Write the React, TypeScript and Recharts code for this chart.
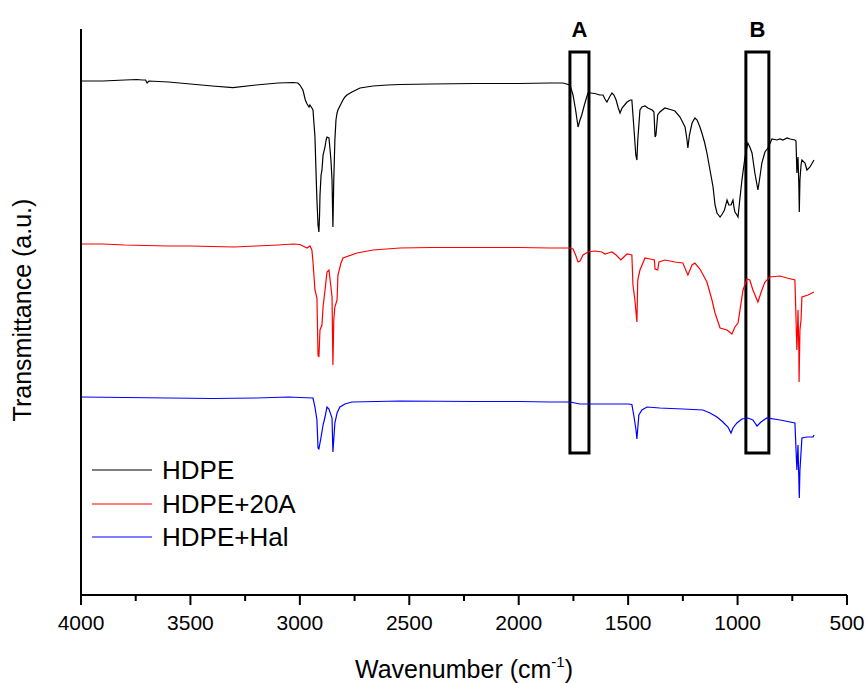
import { LineChart, Line, XAxis, YAxis, ReferenceArea, Label } from "recharts";

// wavenumber (cm-1) and offset transmittance (a.u.)
const hdpeWn = [
  4000, 3900, 3800, 3745, 3720, 3705, 3698, 3690, 3600, 3500,
  3400, 3306, 3200, 3100, 3031, 3009, 3000, 2986, 2975, 2967,
  2958, 2954, 2945, 2940, 2935, 2931, 2925, 2922, 2917, 2913,
  2910, 2908, 2903, 2899, 2894, 2885, 2880, 2876, 2867, 2862,
  2858, 2853, 2849, 2845, 2840, 2835, 2830, 2826, 2817, 2803,
  2794, 2785, 2762, 2725, 2666, 2600, 2542, 2400, 2200, 2000,
  1857, 1798, 1766, 1752, 1740, 1729, 1720, 1712, 1700, 1684,
  1674, 1652, 1630, 1615, 1606, 1597, 1585, 1574, 1565, 1555,
  1545, 1537, 1528, 1505, 1490, 1483, 1473, 1465, 1460, 1456,
  1446, 1437, 1423, 1410, 1390, 1382, 1377, 1373, 1365, 1355,
  1332, 1300, 1286, 1263, 1240, 1231, 1227, 1220, 1208, 1195,
  1185, 1172, 1163, 1150, 1140, 1126, 1112, 1103, 1094, 1080,
  1070, 1060, 1048, 1040, 1030, 1021, 1016, 1012, 1003, 998,
  990, 980, 966, 953, 944, 934, 921, 907, 900, 889,
  875, 861, 843, 820, 806, 793, 774, 760, 738, 733,
  729, 726, 724, 720, 718, 715, 710, 706, 692, 683,
  669, 651,
];
const hdpeT = [
  514, 514, 515, 515.5, 515, 515, 512, 514, 513, 511,
  509, 507.3, 510, 512, 512.5, 512, 510, 505, 495, 491,
  488, 490, 487, 485, 470, 458, 415, 395, 370, 363,
  380, 400, 420, 425, 440, 448, 455, 458, 457, 445,
  435, 415, 368, 415, 455, 475, 482, 485, 489, 495,
  498, 500, 503, 507, 509, 510, 510.5, 511, 511.5, 511.5,
  512, 512, 510, 500, 485, 468, 475, 480, 490, 502,
  502, 501.5, 500, 500, 496, 493, 498, 502, 500, 495,
  487, 482, 487, 493, 495, 495, 465, 440, 435, 455,
  485, 488, 489, 487, 485, 483, 458, 460, 480, 483,
  487, 485, 484, 478, 468, 455, 447, 460, 472, 477,
  475, 468, 462, 452, 442, 425, 408, 390, 382, 378,
  381, 385, 395, 390, 390, 395, 387, 383, 380, 378,
  395, 415, 438, 452, 448, 442, 422, 405, 415, 432,
  443, 447, 456, 455, 456, 455, 457, 456, 455, 454,
  422, 433, 438, 410, 383, 415, 430, 435, 432, 425,
  428, 435,
];

const clayWn = [
  4000, 3900, 3800, 3700, 3600, 3500, 3400, 3300, 3200, 3100,
  3030, 3000, 2967, 2954, 2945, 2940, 2931, 2922, 2917, 2913,
  2908, 2899, 2894, 2885, 2876, 2867, 2858, 2853, 2849, 2845,
  2840, 2830, 2826, 2812, 2803, 2739, 2666, 2542, 2400, 2200,
  2000, 1857, 1766, 1752, 1740, 1729, 1720, 1706, 1684, 1652,
  1620, 1606, 1590, 1574, 1555, 1533, 1520, 1505, 1483, 1478,
  1469, 1465, 1460, 1456, 1446, 1423, 1400, 1380, 1377, 1365,
  1359, 1332, 1286, 1250, 1231, 1227, 1208, 1195, 1172, 1140,
  1117, 1103, 1080, 1048, 1026, 1012, 998, 975, 957, 944,
  930, 907, 889, 875, 852, 806, 774, 738, 729, 726,
  724, 720, 719, 715, 710, 706, 678, 651,
];
const clayT = [
  351, 351, 350, 349.5, 349, 349, 348.5, 348, 349, 350,
  351, 350.5, 347, 349, 345, 333, 305, 297, 240, 238,
  265, 270, 288, 305, 323, 325, 308, 298, 230, 275,
  288, 295, 320, 332, 337, 342, 345, 347, 347.5, 347.5,
  347.5, 347, 347, 346, 340, 333, 334, 340, 343, 344,
  343, 341, 342, 343, 340, 335, 338, 341, 340, 310,
  295, 285, 273, 315, 325, 337, 336, 335, 326, 325,
  333, 335, 333, 332, 322, 320, 330, 332, 326, 313,
  295, 282, 267, 265, 261, 268, 272, 305, 316, 315,
  305, 293, 305, 313, 318, 319, 317, 315, 245, 265,
  285, 245, 213, 265, 275, 298, 300, 303,
];

const halWn = [
  4000, 3800, 3600, 3400, 3200, 3050, 3000, 2940, 2931, 2922,
  2917, 2913, 2903, 2894, 2885, 2876, 2867, 2853, 2849, 2840,
  2830, 2817, 2794, 2762, 2542, 2200, 2000, 1857, 1766, 1720,
  1674, 1500, 1483, 1473, 1464, 1460, 1451, 1437, 1414, 1355,
  1250, 1158, 1126, 1094, 1067, 1044, 1030, 1021, 1003, 980,
  953, 930, 911, 893, 866, 806, 738, 729, 724, 718,
  715, 706, 683, 655, 651,
];
const halT = [
  198, 197.5, 197, 196.5, 197, 198, 197.5, 197, 188, 175,
  147, 146, 158, 170, 178, 188, 186, 177, 143, 172,
  182, 188, 191, 193, 194, 193.5, 193.5, 193, 193, 191,
  191, 191, 190.5, 178, 165, 156, 180, 185, 188, 187,
  186, 185, 182, 178, 173, 168, 162, 167, 172, 176,
  177, 175, 169, 173, 177, 175, 172, 125, 150, 97,
  125, 157, 158, 158, 160,
];

const seriesNames = ["HDPE", "HDPE+20A", "HDPE+Hal"];
const seriesColors = ["#000000", "#ff0000", "#0000ff"];

const xTicks = [4000, 3750, 3500, 3250, 3000, 2750, 2500, 2250, 2000, 1750, 1500, 1250, 1000, 750, 500];

// boxes A and B (wavenumber range, transmittance range)
const boxLabels = ["A", "B"];
const boxX = [
  [1766, 1679],
  [962, 857],
];
const boxY = [142, 543];

const FONT = "'Liberation Sans', Arial, Helvetica, sans-serif";

const toPoints = (wn: number[], t: number[]) => wn.map((w, i) => ({ wn: w, t: t[i] }));
const seriesData = [toPoints(hdpeWn, hdpeT), toPoints(clayWn, clayT), toPoints(halWn, halT)];

const WaveTick = (props: any) => {
  const { x, y, payload } = props;
  const major = payload.value % 500 === 0;
  return (
    <g>
      <line x1={x} x2={x} y1={y} y2={y + (major ? 10 : 6)} stroke="#000" strokeWidth={2} />
      {major && (
        <text x={x} y={y + 35} textAnchor="middle" fontSize={21} fontFamily={FONT} fill="#000">
          {payload.value}
        </text>
      )}
    </g>
  );
};

export default function App() {
  return (
    <div style={{ position: "fixed", left: 0, top: 0, width: 868, height: 683, background: "#fff" }}>
      <LineChart width={868} height={683} margin={{ top: 29, right: 21, left: 21, bottom: 8 }}>
        <XAxis
          dataKey="wn"
          type="number"
          domain={[500, 4000]}
          reversed
          ticks={xTicks}
          interval={0}
          tickLine={false}
          tickSize={0}
          tickMargin={0}
          tick={<WaveTick />}
          axisLine={{ stroke: "#000", strokeWidth: 2 }}
          height={80}
          allowDuplicatedCategory={false}
        >
          <Label
            content={({ viewBox }: any) => (
              <text
                x={viewBox.x + viewBox.width / 2}
                y={viewBox.y + 83}
                textAnchor="middle"
                fontSize={25}
                fontFamily={FONT}
                fill="#000"
              >
                Wavenumber (cm
                <tspan dy={-11} fontSize={15}>-1</tspan>
                <tspan dy={11} fontSize={25}>)</tspan>
              </text>
            )}
          />
        </XAxis>
        <YAxis
          type="number"
          domain={[0, 566]}
          tick={false}
          tickLine={false}
          axisLine={{ stroke: "#000", strokeWidth: 2 }}
          width={60}
        >
          <Label
            content={({ viewBox }: any) => {
              const cx = viewBox.x + 10;
              const cy = viewBox.y + viewBox.height / 2 - 2;
              return (
                <text
                  x={cx}
                  y={cy}
                  transform={`rotate(-90, ${cx}, ${cy})`}
                  textAnchor="middle"
                  fontSize={25}
                  fontFamily={FONT}
                  fill="#000"
                >
                  Transmittance (a.u.)
                </text>
              );
            }}
          />
        </YAxis>

        {seriesData.map((d, i) => (
          <Line
            key={seriesNames[i]}
            data={d}
            dataKey="t"
            name={seriesNames[i]}
            type="linear"
            stroke={seriesColors[i]}
            strokeWidth={1.2}
            dot={false}
            activeDot={false}
            isAnimationActive={false}
          />
        ))}

        {boxLabels.map((lab, i) => (
          <ReferenceArea
            key={lab}
            x1={boxX[i][0]}
            x2={boxX[i][1]}
            y1={boxY[0]}
            y2={boxY[1]}
            stroke="#000"
            strokeWidth={3}
            fill="none"
            fillOpacity={0}
            ifOverflow="visible"
          >
            <Label
              content={({ viewBox }: any) => (
                <text
                  x={viewBox.x + viewBox.width / 2}
                  y={viewBox.y - 15}
                  textAnchor="middle"
                  fontSize={22}
                  fontWeight="bold"
                  fontFamily={FONT}
                  fill="#000"
                >
                  {lab}
                </text>
              )}
            />
          </ReferenceArea>
        ))}
      </LineChart>

      {/* legend, inside the plot area, lower left */}
      <div style={{ position: "absolute", left: 92, top: 453, fontFamily: FONT }}>
        {seriesNames.map((name, i) => (
          <div key={name} style={{ display: "flex", alignItems: "center", height: 33.7 }}>
            <svg width={60} height={4}>
              <line x1={0} x2={60} y1={2} y2={2} stroke={seriesColors[i]} strokeWidth={1.2} />
            </svg>
            <span style={{ marginLeft: 10, fontSize: 26, lineHeight: 1, color: "#000" }}>{name}</span>
          </div>
        ))}
      </div>
    </div>
  );
}
